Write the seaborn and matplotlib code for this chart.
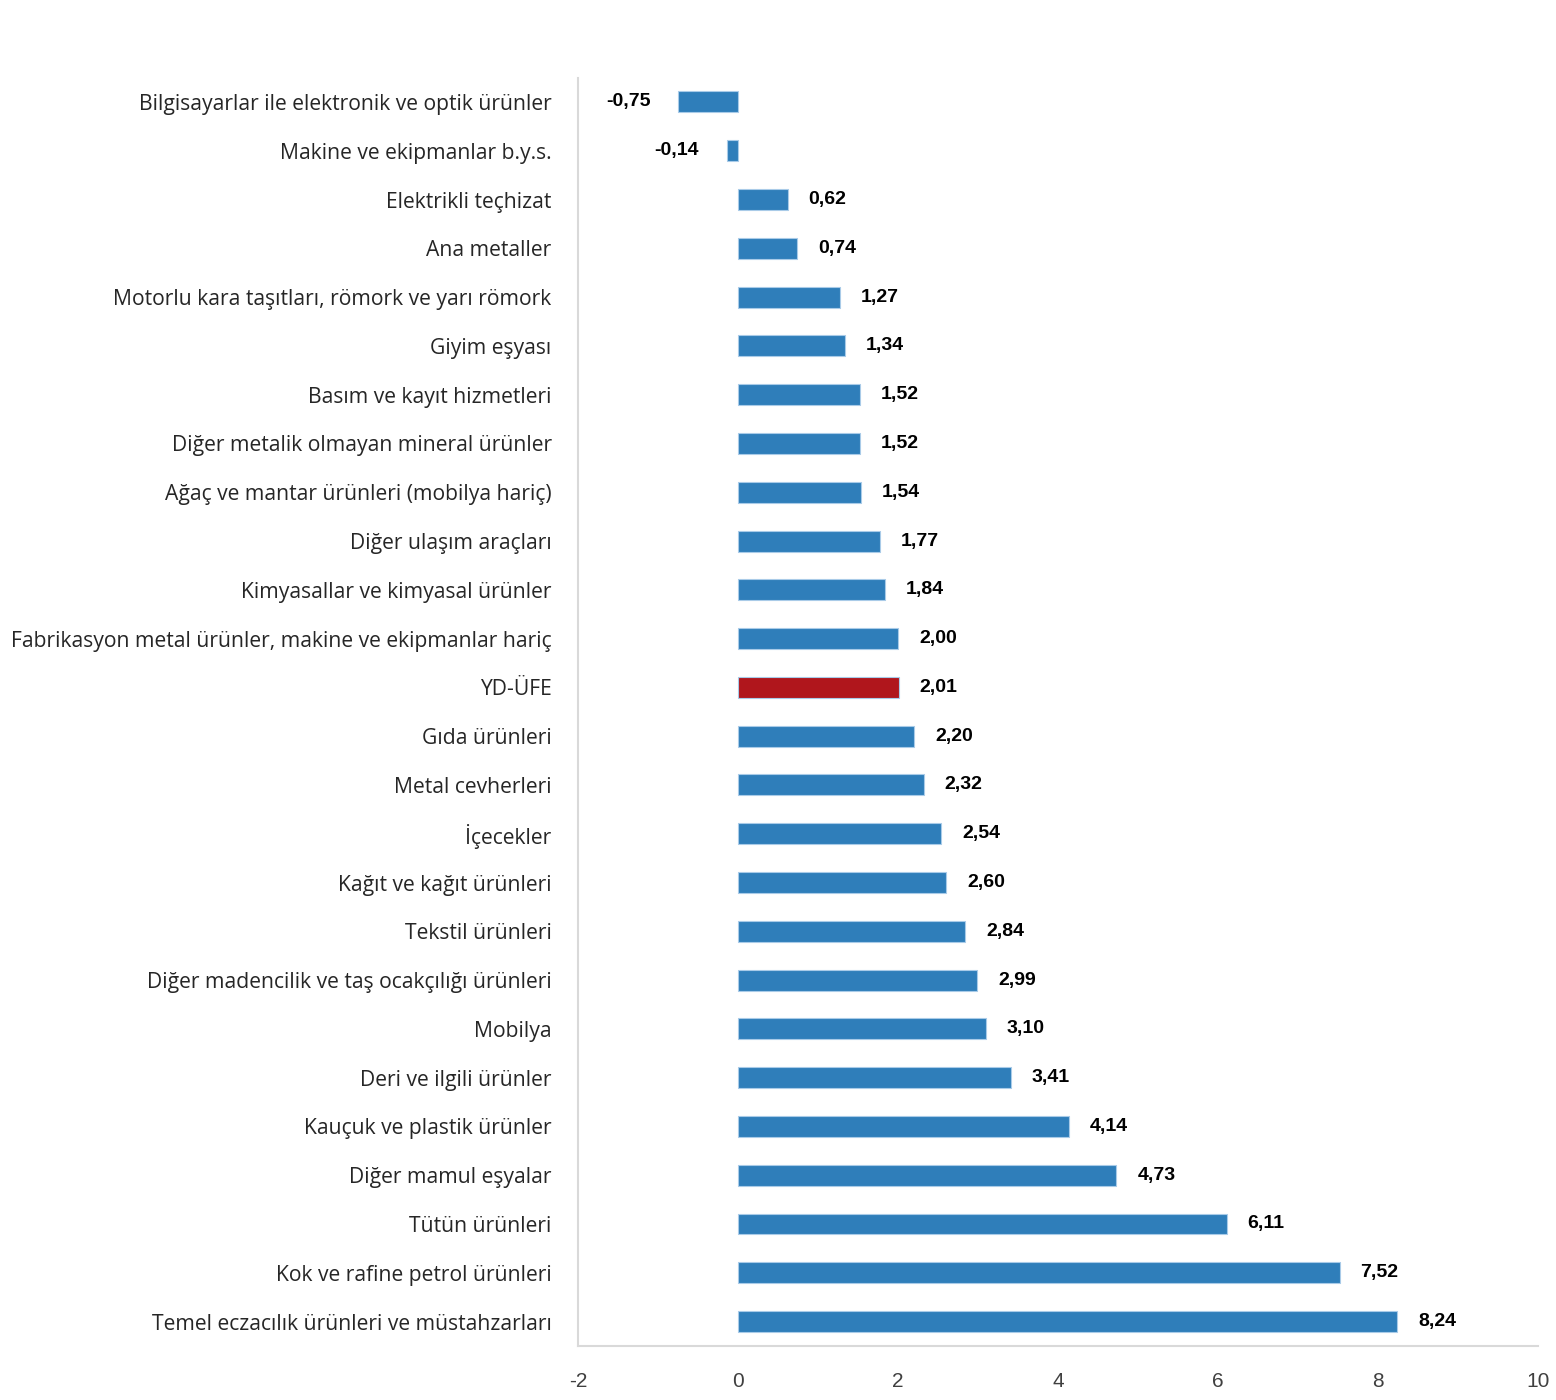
import pandas as pd
import matplotlib.pyplot as plt
import seaborn as sns

# ----------------------------------------------------------
# DATA
# ----------------------------------------------------------
categories = [
    "Bilgisayarlar ile elektronik ve optik ürünler",
    "Makine ve ekipmanlar b.y.s.",
    "Elektrikli teçhizat",
    "Ana metaller",
    "Motorlu kara taşıtları, römork ve yarı römork",
    "Giyim eşyası",
    "Basım ve kayıt hizmetleri",
    "Diğer metalik olmayan mineral ürünler",
    "Ağaç ve mantar ürünleri (mobilya hariç)",
    "Diğer ulaşım araçları",
    "Kimyasallar ve kimyasal ürünler",
    "Fabrikasyon metal ürünler, makine ve ekipmanlar hariç",
    "YD-ÜFE",
    "Gıda ürünleri",
    "Metal cevherleri",
    "İçecekler",
    "Kağıt ve kağıt ürünleri",
    "Tekstil ürünleri",
    "Diğer madencilik ve taş ocakçılığı ürünleri",
    "Mobilya",
    "Deri ve ilgili ürünler",
    "Kauçuk ve plastik ürünler",
    "Diğer mamul eşyalar",
    "Tütün ürünleri",
    "Kok ve rafine petrol ürünleri",
    "Temel eczacılık ürünleri ve müstahzarları",
]
values = [-0.75, -0.14, 0.62, 0.74, 1.27, 1.34, 1.52, 1.52, 1.54, 1.77, 1.84,
          2.00, 2.01, 2.20, 2.32, 2.54, 2.60, 2.84, 2.99, 3.10, 3.41, 4.14,
          4.73, 6.11, 7.52, 8.24]
x_ticks = [-2, 0, 2, 4, 6, 8, 10]

BLUE = "#2F7EBA"
RED = "#B0161C"
colors = [RED if c == "YD-ÜFE" else BLUE for c in categories]

df = pd.DataFrame({"kategori": categories, "deger": values})

# ----------------------------------------------------------
# PLOT
# ----------------------------------------------------------
sns.set_style("white")
plt.rcParams["font.family"] = ["Open Sans", "DejaVu Sans"]

fig = plt.figure(figsize=(15.56, 14), dpi=100)
ax = fig.add_axes([0.3715, 0.0386, 0.617, 0.906])

sns.barplot(data=df, x="deger", y="kategori", hue="kategori", palette=colors,
            legend=False, orient="h", width=0.43, saturation=1,
            edgecolor="#a9cbe8", linewidth=0.8, ax=ax)

# value labels
for i, v in enumerate(values):
    txt = f"{v:.2f}".replace(".", ",")
    if v < 0:
        ax.annotate(txt, (v, i), xytext=(-20, 0), textcoords="offset points",
                    ha="right", va="center", fontsize=14, fontweight="bold",
                    family="Liberation Sans", color="black")
    else:
        ax.annotate(txt, (v, i), xytext=(15, 0), textcoords="offset points",
                    ha="left", va="center", fontsize=14, fontweight="bold",
                    family="Liberation Sans", color="black")

ax.set_xlim(-2, 10)
ax.set_ylim(25.5, -0.5)
ax.set_xticks(x_ticks)
ax.set_xticklabels([str(t) for t in x_ticks], fontsize=15,
                   family="Liberation Sans", color="#404040")
ax.set_xlabel("")
ax.set_ylabel("")
ax.tick_params(axis="y", length=0, pad=19, labelsize=15.2, labelcolor="#262626")
ax.tick_params(axis="x", length=0, pad=19)

for s in ["top", "right"]:
    ax.spines[s].set_visible(False)
for s in ["left", "bottom"]:
    ax.spines[s].set_color("#d9d9d9")
    ax.spines[s].set_linewidth(1.5)

fig.savefig("out.png", dpi=100)
